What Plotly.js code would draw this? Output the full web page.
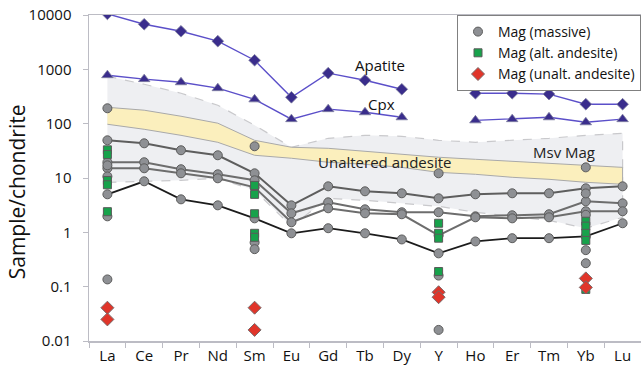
<!DOCTYPE html>
<html>
<head>
<meta charset="utf-8">
<script src="https://cdn.plot.ly/plotly-3.0.1.min.js"></script>
<style>html,body{margin:0;padding:0;background:#fff;}#chart{width:641px;height:373px;}</style>
</head>
<body>
<div id="chart"></div>
<script>
// Categories (REE + Y)
const elements = ['La','Ce','Pr','Nd','Sm','Eu','Gd','Tb','Dy','Y','Ho','Er','Tm','Yb','Lu'];

// Reference mineral profiles
const apatite = [10500, 6760, 5020, 3300, 1470, 306, 850, 630, 430, null, 363, 363, 350, 228, 228];
const cpx     = [780, 660, 578, 450, 280, 121, 185, 162, 131, null, 115, 121, 131, 106, 121];

// Msv Mag envelope (grey field)
const msvUpper = [746, 532, 363, 218, 93.5, 36.8, 53.8, 61.1, 58.6, 49.4, 45.4, 49.4, 53.8, 61.1, 66.6];
const msvLower = [8.33, 8.69, 9.07, 9.87, 5.93, 1.29, 4.23, 3.88, 3.42, 3.01, 2.34, 1.97, 1.66, 1.19, 1.89];

// Unaltered andesite field (yellow band)
const andUpper = [200, 177, 137, 102, 49.4, 36.8, 35.2, 31, 27.3, 24.1, 22.1, 20.3, 18.7, 17.1, 15.7];
const andLower = [97.5, 78.8, 61, 45.4, 26.2, 23.1, 19.5, 17.9, 15.7, 12.7, 11.7, 10.3, 9.46, 8.33, 7.66];

// Massive magnetite profiles (connected)
const msv1 = [49.4, 43.5, 32.4, 26.2, 12.2, 3.14, 7.03, 5.69, 5.23, 4.23, 5.01, 5.23, 5.23, 6.46, 7.03];
const msv2 = [19.5, 19.5, 14.5, 11.7, 9.07, 2.24, 3.57, 2.65, 2.34, 2.34, 1.97, 2.06, 2.15, 3.72, 3.42];
const msv3 = [15.1, 15.1, 12.2, 9.87, 6.74, 1.53, 2.77, 2.24, 2.15, 0.88, 1.89, 1.81, 1.89, 2.44, 2.44];
const msv4 = [5.01, 8.69, 4.05, 3.14, 1.81, 0.96, 1.19, 0.96, 0.74, 0.41, 0.68, 0.78, 0.78, 0.84, 1.47];

// Isolated massive magnetite analyses
const msvPtsX = ['La','La','La','La','La','Sm','Sm','Sm','Y','Y','Y','Yb','Yb','Yb','Yb','Yb'];
const msvPtsY = [192, 17.1, 10.7, 1.97, 0.136, 38.4, 0.65, 0.49, 12.2, 0.16, 0.016, 15.7, 5.2, 2.1, 0.47, 0.27];

// Magnetite in altered andesite
const altX = ['La','La','La','La','La','Sm','Sm','Sm','Sm','Sm','Y','Y','Y','Y','Yb','Yb','Yb','Yb','Yb'];
const altY = [33, 27, 9.0, 7.5, 2.4, 7.3, 5.0, 2.2, 0.96, 0.81, 1.47, 0.96, 0.78, 0.19, 1.6, 1.3, 0.96, 0.71, 0.089];

// Magnetite in unaltered andesite
const unaltX = ['La','La','Sm','Sm','Y','Y','Yb','Yb'];
const unaltY = [0.041, 0.025, 0.041, 0.016, 0.079, 0.064, 0.142, 0.097];

const FONT = 'Open Sans, Noto Sans, sans-serif';
const grayMarker = {symbol:'circle', size:9, color:'#8e9094', line:{color:'#5c5c5c', width:1}};

function band(upper, lower, fill, lineStyle){
  return {
    x: elements.concat(elements.slice().reverse()),
    y: upper.concat(lower.slice().reverse()),
    type:'scatter', mode:'lines', fill:'toself', fillcolor:fill,
    line: lineStyle, hoverinfo:'skip', showlegend:false
  };
}
function profile(vals, color, width){
  return {x: elements, y: vals, type:'scatter', mode:'lines+markers',
    line:{color:color, width:width}, marker:grayMarker, showlegend:false, cliponaxis:true};
}

const traces = [
  band(msvUpper, msvLower, '#eeeff2', {color:'#c9c9cc', width:1.2, dash:'dash'}),
  band(andUpper, andLower, '#fbefbd', {color:'#a9a9a9', width:1}),
  {x: elements, y: apatite, type:'scatter', mode:'lines+markers', connectgaps:false,
   line:{color:'#5b4fc9', width:1.4}, marker:{symbol:'diamond', size:9, color:'#3a2d8c', line:{color:'#7f7f9f', width:0.8}}, showlegend:false},
  {x: elements, y: cpx, type:'scatter', mode:'lines+markers', connectgaps:false,
   line:{color:'#5b4fc9', width:1.4}, marker:{symbol:'triangle-up', size:10, color:'#3a2d8c', line:{color:'#7f7f9f', width:0.8}}, showlegend:false},
  profile(msv1, '#5e5e5e', 2),
  profile(msv2, '#6d6d6d', 2),
  profile(msv3, '#6d6d6d', 2),
  profile(msv4, '#1c1c1c', 1.8),
  {x: msvPtsX, y: msvPtsY, type:'scatter', mode:'markers', name:'Mag (massive)', marker:grayMarker},
  {x: altX, y: altY, type:'scatter', mode:'markers', name:'Mag (alt. andesite)',
   marker:{symbol:'square', size:8, color:'#17a24b', line:{color:'#5a5a5a', width:1}}},
  {x: unaltX, y: unaltY, type:'scatter', mode:'markers', name:'Mag (unalt. andesite)',
   marker:{symbol:'diamond', size:10, color:'#e0352a', line:{color:'#7a6a6a', width:1}}}
];

const axisColor = '#bcbcc4';
const layout = {
  width:641, height:373,
  margin:{l:89, r:0, t:15, b:32, autoexpand:false},
  paper_bgcolor:'#ffffff', plot_bgcolor:'#ffffff',
  font:{family:FONT, color:'#111'},
  showlegend:true,
  legend:{x:1, y:1, xanchor:'right', yanchor:'top', bgcolor:'#ffffff',
    bordercolor:'#808080', borderwidth:1, font:{family:FONT, size:14, color:'#111'},
    tracegroupgap:0},
  xaxis:{type:'category', categoryorder:'array', categoryarray:elements, range:[-0.5,14.5],
    showline:true, linecolor:axisColor, linewidth:1.5, mirror:true,
    ticks:'outside', tickson:'boundaries', ticklen:5, tickcolor:axisColor, tickwidth:1,
    tickfont:{family:FONT, size:15, color:'#111'}, showgrid:false, zeroline:false},
  yaxis:{type:'log', range:[-2,4],
    tickvals:[0.01,0.1,1,10,100,1000,10000], ticktext:['0.01','0.1','1','10','100','1000','10000'],
    showline:true, linecolor:axisColor, linewidth:1.5,
    ticks:'outside', ticklen:5, tickcolor:axisColor, tickwidth:1, ticklabelstandoff:8,
    tickfont:{family:FONT, size:15, color:'#111'}, showgrid:false, zeroline:false},
  annotations:[
    {text:'Sample/chondrite', xref:'paper', yref:'paper', x:-0.13, y:0.457, xanchor:'center', yanchor:'middle', textangle:-90,
     showarrow:false, font:{family:FONT, size:21, color:'#111'}},
    {text:'Apatite', x:7.42, y:3.075, xref:'x', yref:'y', showarrow:false, font:{family:FONT, size:15, color:'#111'}},
    {text:'Cpx', x:7.45, y:2.357, xref:'x', yref:'y', showarrow:false, font:{family:FONT, size:15, color:'#111'}},
    {text:'Unaltered andesite', x:7.53, y:1.289, xref:'x', yref:'y', showarrow:false, font:{family:FONT, size:15, color:'#222'}},
    {text:'Msv Mag', x:12.42, y:1.473, xref:'x', yref:'y', showarrow:false, font:{family:FONT, size:15, color:'#222'}}
  ]
};

Plotly.newPlot('chart', traces, layout, {staticPlot:true, displayModeBar:false});
</script>
</body>
</html>
